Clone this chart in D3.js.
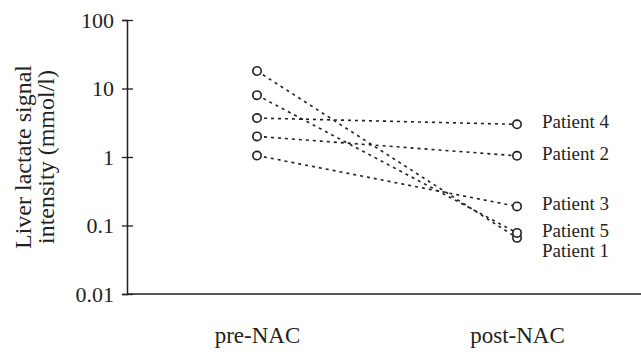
<!DOCTYPE html>
<html>
<head>
<meta charset="utf-8">
<script src="https://cdn.jsdelivr.net/npm/d3@7"></script>
<style>
  body { margin: 0; background: #fff; }
  text { font-family: "Liberation Serif", "Times New Roman", serif; fill: #231f20; }
</style>
</head>
<body>
<svg width="641" height="352"></svg>
<script>
// data
const patients = ['Patient 1', 'Patient 2', 'Patient 3', 'Patient 4', 'Patient 5'];
const timepoints = ['pre-NAC', 'post-NAC'];
const preValues = [18, 2.0, 1.05, 3.7, 8];
const postValues = [0.066, 1.04, 0.19, 3.0, 0.078];
const yTicks = [100, 10, 1, 0.1, 0.01];

const svg = d3.select('svg');
const ink = '#231f20';

// scales
const y = d3.scaleLog().domain([0.01, 100]).range([294, 20]);
const x = d3.scalePoint().domain(timepoints).range([257, 517]);
const axisX = 127;

// y axis
const yAxis = svg.append('g')
    .attr('transform', `translate(${axisX},0)`)
    .call(d3.axisLeft(y).tickValues(yTicks).tickFormat(d => String(d)).tickSize(5).tickPadding(8));
yAxis.select('.domain').attr('stroke', ink).attr('stroke-width', 1.5);
yAxis.selectAll('.tick line').attr('x1', 6).attr('stroke', ink).attr('stroke-width', 1.3);
yAxis.selectAll('.tick text')
    .attr('font-size', 22)
    .attr('dy', '0.34em')
    .style('font-family', '"Liberation Serif", serif')
    .attr('fill', ink);

// x axis baseline
svg.append('line')
    .attr('x1', axisX).attr('x2', 641)
    .attr('y1', y(0.01)).attr('y2', y(0.01))
    .attr('stroke', ink).attr('stroke-width', 1.5);

// x labels
const xAxis = svg.append('g')
    .attr('transform', `translate(0,${y(0.01)})`)
    .call(d3.axisBottom(x).tickSize(0).tickPadding(0));
xAxis.select('.domain').remove();
xAxis.selectAll('.tick text')
    .attr('y', 49).attr('dy', 0)
    .attr('font-size', 23)
    .style('font-family', '"Liberation Serif", serif')
    .attr('fill', ink);

// y axis title
const title = svg.append('text')
    .attr('transform', `translate(0,${(y(100) + y(0.01)) / 2}) rotate(-90)`)
    .attr('text-anchor', 'middle')
    .attr('font-size', 24);
title.append('tspan').attr('x', 0).attr('y', 31).text('Liver lactate signal');
title.append('tspan').attr('x', 0).attr('y', 54).text('intensity (mmol/l)');

// connecting lines
const rows = patients.map((p, i) => ({ name: p, pre: preValues[i], post: postValues[i] }));

svg.append('g').selectAll('line')
    .data(rows)
    .enter().append('line')
    .attr('x1', x('pre-NAC')).attr('y1', d => y(d.pre))
    .attr('x2', x('post-NAC')).attr('y2', d => y(d.post))
    .attr('stroke', ink)
    .attr('stroke-width', 1.6)
    .attr('stroke-dasharray', '3,4');

// points
const pts = [];
rows.forEach(d => {
    pts.push({ t: 'pre-NAC', v: d.pre });
    pts.push({ t: 'post-NAC', v: d.post });
});
svg.append('g').selectAll('circle')
    .data(pts)
    .enter().append('circle')
    .attr('cx', d => x(d.t))
    .attr('cy', d => y(d.v))
    .attr('r', 4.2)
    .attr('fill', '#fff')
    .attr('stroke', ink)
    .attr('stroke-width', 1.6);

// patient labels, pushed apart when they would overlap
const labels = rows.map(d => ({ name: d.name, ly: y(d.post) + 4 }))
    .sort((a, b) => a.ly - b.ly);
for (let i = 1; i < labels.length; i++) {
    if (labels[i].ly < labels[i - 1].ly + 20) labels[i].ly = labels[i - 1].ly + 20;
}
svg.append('g').selectAll('text')
    .data(labels)
    .enter().append('text')
    .attr('x', x('post-NAC') + 25)
    .attr('y', d => d.ly)
    .attr('font-size', 19)
    .text(d => d.name);
</script>
</body>
</html>
